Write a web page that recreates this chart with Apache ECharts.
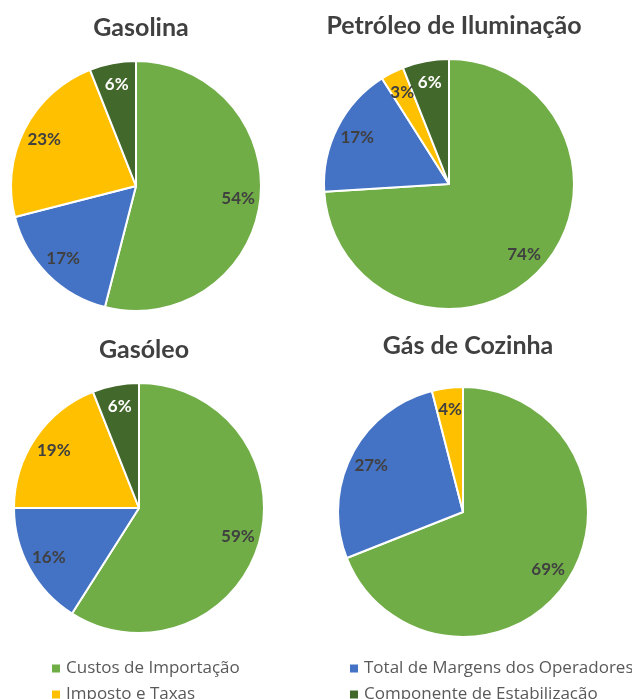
<!DOCTYPE html>
<html>
<head>
<meta charset="utf-8">
<script src="https://cdn.jsdelivr.net/npm/echarts@6/dist/echarts.min.js"></script>
<style>
  html, body { margin: 0; padding: 0; background: #fff; }
  #chart { width: 632px; height: 699px; }
</style>
</head>
<body>
<div id="chart"></div>
<script>
const categories = ['Custos de Importação', 'Total de Margens dos Operadores', 'Imposto e Taxas', 'Componente de Estabilização']
const colors = ['#70AD47', '#4472C4', '#FFC000', '#43682B']

const titles = ['Gasolina', 'Petróleo de Iluminação', 'Gasóleo', 'Gás de Cozinha']
const gasolina = [54, 17, 23, 6]
const petroleo = [74, 17, 3, 6]
const gasoleo = [59, 16, 19, 6]
const gasCozinha = [69, 27, 4, 0]

const values = [gasolina, petroleo, gasoleo, gasCozinha]
const centers = [[136, 186], [449, 184], [139, 508], [463, 512]]
const titleY = [10, 8, 332, 328]
const R = 125

const font = 'Lato, "Open Sans", sans-serif'

const chart = echarts.init(document.getElementById('chart'))

const title = titles.map((t, i) => ({
  text: t,
  left: centers[i][0],
  top: titleY[i],
  textAlign: 'center',
  textStyle: { fontFamily: font, fontSize: 25, fontWeight: 'bold', color: '#404040' }
}))

const series = []
values.forEach((vals, i) => {
  const data = vals.map((v, j) => ({ name: categories[j], value: v }))
  // the visible pie
  series.push({
    type: 'pie',
    center: centers[i],
    radius: [0, R],
    startAngle: 90,
    clockwise: true,
    label: { show: false },
    labelLine: { show: false },
    itemStyle: { borderColor: '#fff', borderWidth: 2 },
    emphasis: { disabled: true },
    data: data
  })
  // a transparent ring only to carry the labels further out
  series.push({
    type: 'pie',
    center: centers[i],
    radius: [R * 0.6, R],
    startAngle: 90,
    silent: true,
    legendHoverLink: false,
    itemStyle: { color: 'rgba(0,0,0,0)', borderWidth: 0 },
    emphasis: { disabled: true },
    labelLine: { show: false },
    data: data.map((d, j) => ({
      name: d.name,
      value: d.value,
      label: {
        show: d.value > 0,
        position: 'inside',
        formatter: '{c}%',
        fontFamily: font,
        fontSize: 17,
        fontWeight: 'bold',
        color: j === 3 ? '#ffffff' : '#404040'
      }
    }))
  })
})

const legendText = { fontFamily: '"Open Sans", sans-serif', fontSize: 17, color: '#595959' }
const legendPos = [[45, 655], [343, 655], [45, 681], [343, 681]]
const legend = categories.map((c, i) => ({
  left: legendPos[i][0],
  top: legendPos[i][1],
  itemWidth: 10,
  itemHeight: 10,
  icon: 'rect',
  textStyle: legendText,
  data: [c]
}))

chart.setOption({
  animation: false,
  color: colors,
  title: title,
  legend: legend,
  series: series
})
</script>
</body>
</html>
